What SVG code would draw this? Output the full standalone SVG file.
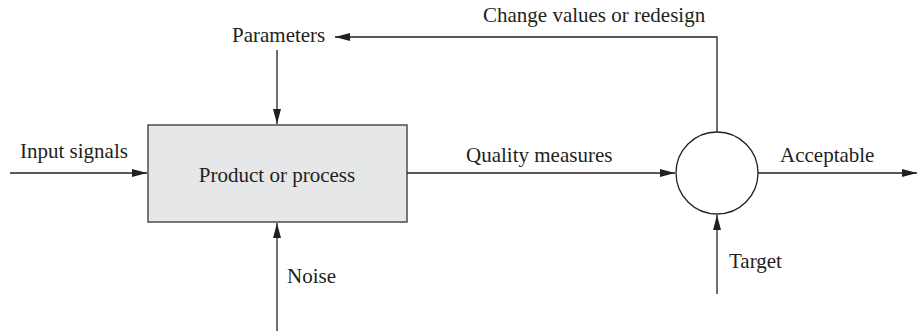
<svg xmlns="http://www.w3.org/2000/svg" width="918" height="332" viewBox="0 0 918 332">
<style>
text{font-family:"Liberation Serif","Times New Roman",serif;font-size:21px;fill:#231f20}
.ln{stroke:#231f20;stroke-width:1.3;fill:none}
</style>
<defs>
<marker id="ah" viewBox="0 0 15 8" refX="15" refY="4" markerWidth="15" markerHeight="8" markerUnits="userSpaceOnUse" orient="auto">
<path d="M0,0L15,4L0,8z" fill="#231f20"/>
</marker>
</defs>
<g id="product">
<rect x="148" y="125" width="259" height="97" fill="#e6e7e8" stroke="#4d4d4f" stroke-width="1.5"/>
<text x="277" y="182" text-anchor="middle">Product or process</text>
</g>
<g id="comparator">
<circle cx="717" cy="173" r="41" fill="#fff" stroke="#231f20" stroke-width="1.3"/>
</g>
<g id="labels">
<text x="20" y="158">Input signals</text>
<text x="232" y="42">Parameters</text>
<text x="287" y="283">Noise</text>
<text x="466" y="162">Quality measures</text>
<text x="483" y="22">Change values or redesign</text>
<text x="780" y="162">Acceptable</text>
<text x="729" y="268">Target</text>
</g>
<g id="connectors">
<line class="ln" x1="10" y1="173" x2="147" y2="173" marker-end="url(#ah)"/>
<line class="ln" x1="277" y1="50" x2="277" y2="124" marker-end="url(#ah)"/>
<line class="ln" x1="277" y1="331" x2="277" y2="223" marker-end="url(#ah)"/>
<line class="ln" x1="407" y1="173" x2="675" y2="173" marker-end="url(#ah)"/>
<polyline class="ln" points="717,132 717,37 335,37" marker-end="url(#ah)"/>
<line class="ln" x1="758" y1="173" x2="917" y2="173" marker-end="url(#ah)"/>
<line class="ln" x1="717" y1="294" x2="717" y2="215" marker-end="url(#ah)"/>
</g>
</svg>
